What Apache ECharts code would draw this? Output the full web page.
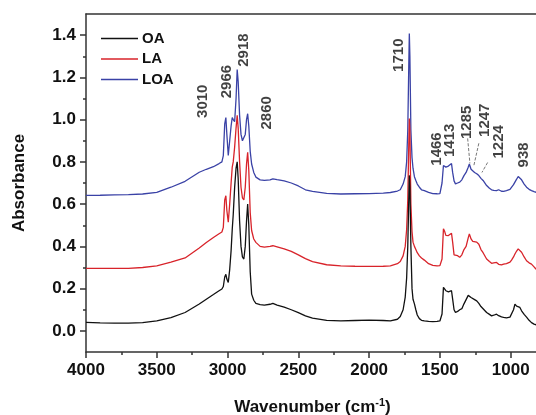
<!DOCTYPE html>
<html><head><meta charset="utf-8">
<script src="https://cdn.jsdelivr.net/npm/echarts@6/dist/echarts.min.js"></script>
<style>html,body{margin:0;padding:0;background:#fff}#c{width:536px;height:415px}</style>
</head><body><div id="c"></div><script>
// Wavenumber grid (cm-1)
var wavenumber = [4000,3900,3800,3700,3600,3500,3400,3300,3200,3150,3100,3060,3040,3030,3020,3012,3005,2995,2985,2975,2967,2960,2950,2940,2932,2925,2915,2905,2895,2885,2875,2866,2858,2850,2840,2830,2815,2800,2770,2740,2700,2680,2650,2600,2550,2500,2450,2400,2300,2200,2100,2000,1900,1850,1800,1780,1760,1745,1735,1727,1720,1716,1712,1705,1697,1690,1680,1670,1660,1645,1630,1610,1580,1550,1520,1500,1485,1475,1466,1458,1450,1440,1430,1418,1410,1400,1390,1375,1360,1345,1330,1315,1300,1292,1280,1268,1255,1240,1225,1210,1195,1170,1150,1135,1120,1100,1085,1076,1065,1050,1030,1017,1005,994,980,970,958,947,935,923,905,888,870,853,835,822,800];
var oa = [.040,.038,.037,.037,.039,.047,.063,.087,.127,.150,.172,.190,.198,.21,.255,.268,.245,.229,.29,.38,.48,.55,.68,.77,.80,.72,.52,.40,.35,.34,.40,.52,.60,.50,.28,.174,.145,.130,.124,.122,.126,.130,.122,.112,.100,.086,.071,.060,.050,.047,.049,.051,.049,.047,.055,.068,.100,.16,.25,.40,.62,.736,.68,.40,.20,.15,.128,.10,.075,.058,.050,.047,.045,.044,.045,.047,.08,.206,.214,.19,.182,.185,.187,.190,.150,.10,.087,.092,.100,.105,.128,.148,.168,.177,.158,.150,.148,.142,.130,.115,.105,.087,.078,.071,.074,.079,.072,.068,.066,.064,.062,.060,.065,.071,.10,.127,.117,.124,.111,.095,.078,.065,.050,.039,.032,.028,.024];
var la = [.296,.296,.296,.296,.300,.308,.325,.345,.392,.418,.442,.460,.468,.49,.62,.64,.57,.514,.60,.70,.775,.80,.87,.96,1.02,.96,.80,.68,.63,.62,.68,.79,.845,.76,.56,.475,.435,.419,.400,.396,.400,.403,.398,.388,.376,.360,.342,.328,.313,.308,.306,.305,.306,.308,.318,.328,.355,.40,.48,.62,.88,1.005,.95,.60,.47,.42,.40,.385,.37,.355,.345,.335,.318,.310,.308,.309,.34,.483,.47,.452,.451,.451,.455,.462,.42,.36,.351,.356,.348,.36,.385,.40,.44,.459,.435,.424,.424,.42,.41,.385,.37,.340,.328,.320,.322,.324,.315,.309,.312,.316,.318,.320,.325,.335,.350,.364,.378,.388,.380,.372,.350,.332,.322,.316,.303,.293,.285];
var loa = [.641,.642,.644,.645,.648,.656,.680,.708,.751,.765,.777,.792,.800,.83,.98,1.010,.93,.83,.90,.97,1.010,1.00,.99,1.10,1.237,1.18,1.02,.93,.90,.894,.93,1.00,1.028,.97,.85,.79,.75,.728,.715,.712,.715,.720,.716,.710,.700,.686,.668,.660,.651,.648,.649,.650,.652,.655,.662,.668,.695,.73,.80,.95,1.25,1.408,1.30,.95,.82,.77,.73,.712,.695,.68,.668,.664,.656,.650,.649,.650,.70,.783,.788,.775,.772,.78,.786,.792,.75,.71,.696,.70,.704,.715,.735,.75,.775,.790,.765,.756,.75,.744,.735,.722,.712,.688,.675,.668,.665,.664,.668,.677,.661,.660,.664,.666,.670,.678,.692,.704,.718,.731,.722,.715,.695,.680,.670,.664,.659,.656,.652];

var seriesNames = ['OA','LA','LOA'];
var xTicks = [4000,3500,3000,2500,2000,1500,1000];
var xMinorTicks = [3750,3250,2750,2250,1750,1250];
var yTicks = [0.0,0.2,0.4,0.6,0.8,1.0,1.2,1.4];
var yMinorTicks = [0.1,0.3,0.5,0.7,0.9,1.1,1.3];

// Peak annotations
var annoText = ['3010','2966','2918','2860','1710','1466','1413','1285','1247','1224','938'];
var annoX = [3174,3004,2884,2722,1790,1521,1429,1309,1182,1083,910];
var annoY = [1.087,1.18,1.329,1.032,1.305,0.861,0.902,0.987,0.997,0.895,0.833];
var leaderFrom = [[1304,0.911],[1225,0.888],[1163,0.797]];
var leaderTo = [[1288,0.793],[1260,0.783],[1203,0.750]];

var FONT = '"Liberation Sans", Arial, sans-serif';
var colors = ['#111111','#d8232a','#3a42a6'];
var series = [oa, la, loa].map(function(vals, k){
  return {
    name: seriesNames[k], type:'line', symbol:'none', xAxisIndex:0, yAxisIndex:0,
    lineStyle:{color:colors[k], width:1.3}, itemStyle:{color:colors[k]},
    data: wavenumber.map(function(w,i){ return [w, vals[i]]; }),
    z: 3 - k
  };
});
series.push({
  type:'scatter', xAxisIndex:0, yAxisIndex:0, symbol:'circle', symbolSize:1,
  itemStyle:{color:'rgba(0,0,0,0)'}, silent:true,
  data: annoX.map(function(x,i){ return {name:annoText[i], value:[x, annoY[i]]}; }),
  label:{show:true, formatter:'{b}', rotate:90, position:'inside', align:'center', verticalAlign:'middle',
    fontFamily:FONT, fontSize:15, fontWeight:'bold', color:'#111'},
  markLine:{silent:true, symbol:['none','none'], label:{show:false},
    lineStyle:{type:'dashed', color:'#555', width:0.8},
    data: leaderFrom.map(function(p,i){ return [{coord:p},{coord:leaderTo[i]}]; })}
});

var axisLineStyle = {color:'#333', width:1.5};
var xBase = {type:'value', min:800, max:4000, inverse:true, splitLine:{show:false}};
var yBase = {type:'value', min:-0.1, max:1.5, splitLine:{show:false}};
function ext(a,b){ var o={}; for(var k in a)o[k]=a[k]; for(var k2 in b)o[k2]=b[k2]; return o; }

var option = {
  animation:false,
  textStyle:{fontFamily:FONT},
  grid:{left:86, top:14, width:453, height:338, containLabel:false, outerBoundsMode:'none'},
  legend:{data:seriesNames, orient:'vertical', left:96, top:26, icon:'rect', itemWidth:37, itemHeight:1.6, itemGap:5.5,
    textStyle:{fontFamily:FONT, fontSize:15, fontWeight:'bold', color:'#111', lineHeight:14, padding:[0,0,0,-1]}},
  xAxis:[
    ext(xBase,{position:'bottom', axisLine:{show:true, onZero:false, lineStyle:axisLineStyle},
      axisTick:{show:true, length:6, customValues:xTicks, lineStyle:axisLineStyle},
      axisLabel:{customValues:xTicks, margin:10, fontFamily:FONT, fontSize:17, fontWeight:'bold', color:'#111',
        formatter:function(v){ return String(v); }},
      name:'{n|Wavenumber (cm}{s|-1}{n|)}', nameLocation:'middle', nameGap:45,
      nameTextStyle:{rich:{n:{fontFamily:FONT, fontSize:17, fontWeight:'bold', color:'#111', lineHeight:20},
        s:{fontFamily:FONT, fontSize:11, fontWeight:'bold', color:'#111', verticalAlign:'top', lineHeight:20}}}}),
    ext(xBase,{position:'bottom', axisLine:{show:false, onZero:false},
      axisTick:{show:true, length:3, customValues:xMinorTicks, lineStyle:axisLineStyle}, axisLabel:{show:false}}),
    ext(xBase,{position:'top', axisLine:{show:true, onZero:false, lineStyle:axisLineStyle}, axisTick:{show:false}, axisLabel:{show:false}})
  ],
  yAxis:[
    ext(yBase,{position:'left', axisLine:{show:true, onZero:false, lineStyle:axisLineStyle},
      axisTick:{show:true, length:6, customValues:yTicks, lineStyle:axisLineStyle},
      axisLabel:{customValues:yTicks, margin:10, fontFamily:FONT, fontSize:17, fontWeight:'bold', color:'#111',
        formatter:function(v){ return v.toFixed(1); }},
      name:'Absorbance', nameLocation:'middle', nameGap:58,
      nameTextStyle:{fontFamily:FONT, fontSize:17, fontWeight:'bold', color:'#111'}}),
    ext(yBase,{position:'left', axisLine:{show:false, onZero:false},
      axisTick:{show:true, length:3, customValues:yMinorTicks, lineStyle:axisLineStyle}, axisLabel:{show:false}}),
    ext(yBase,{position:'right', axisLine:{show:true, onZero:false, lineStyle:axisLineStyle}, axisTick:{show:false}, axisLabel:{show:false}})
  ],
  series: series
};
var chart = echarts.init(document.getElementById('c'), null, {renderer:'canvas'});
chart.setOption(option);
</script></body></html>
